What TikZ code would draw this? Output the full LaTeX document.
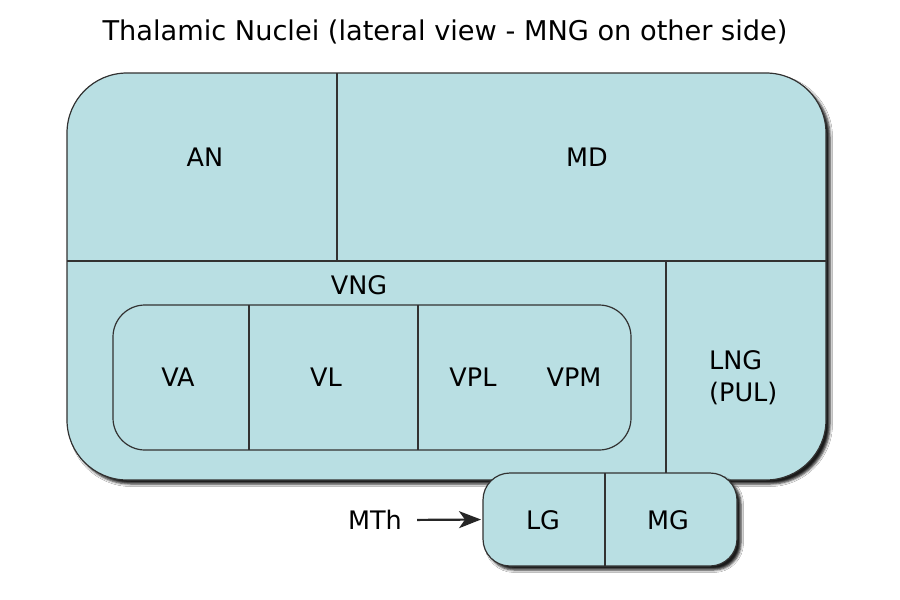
\documentclass[tikz,border=0pt]{standalone}
\usepackage{fontspec}
\setmainfont{DejaVu Sans}
\usetikzlibrary{arrows.meta,shadows.blur}
\definecolor{nucfill}{RGB}{185,223,227}
\definecolor{edge}{RGB}{50,50,50}
\tikzset{
  region/.style={draw=edge, line width=1.2pt, fill=nucfill, inner sep=0pt, outer sep=0pt},
  shad/.style={blur shadow={shadow xshift=4pt, shadow yshift=-4pt, shadow blur radius=2.5pt, shadow opacity=90}},
  divider/.style={draw=edge, line width=1.1pt},
  lbl/.style={font=\fontsize{25.5}{31}\selectfont, text=black, inner sep=1pt},
  arr/.style={draw=black!85, line width=2.2pt, -{Stealth[length=22pt,width=17pt,inset=6pt]}},
}
\begin{document}
\begin{tikzpicture}[x=1pt,y=-1pt]
\useasboundingbox (0,0) rectangle (900,600);
\fill[white] (0,0) rectangle (900,600);
% title
\node[lbl, font=\fontsize{27.2}{32}\selectfont] (title) at (445,32) {Thalamic Nuclei (lateral view - MNG on other side)};
% main body
\node[region, shad, rounded corners=60pt, minimum width=759pt, minimum height=407pt] (main) at (446.5,276.5) {};
\coordinate (hl) at (67,261);
\coordinate (hr) at (826,261);
\coordinate (v1t) at (337,73);
\coordinate (v1b) at (337,261);
\coordinate (v2t) at (666,261);
\coordinate (v2b) at (666,474);
\draw[divider] (hl) -- (hr);
\draw[divider] (v1t) -- (v1b);
\draw[divider] (v2t) -- (v2b);
% inner ventral box
\node[region, rounded corners=32pt, minimum width=518pt, minimum height=145pt] (inner) at (372,377.5) {};
\draw[divider] (inner.north -| 249,0) -- (inner.south -| 249,0);
\draw[divider] (inner.north -| 418,0) -- (inner.south -| 418,0);
% LG / MG box
\node[region, shad, rounded corners=27pt, minimum width=254pt, minimum height=93pt] (lgbox) at (610,519.5) {};
\draw[divider] (lgbox.north -| 605,0) -- (lgbox.south -| 605,0);
% labels
\node[lbl] (an) at (205,157) {AN};
\node[lbl] (md) at (587,157) {MD};
\node[lbl] (vng) at (359,285) {VNG};
\node[lbl] (va) at (178,377) {VA};
\node[lbl] (vl) at (326,377) {VL};
\node[lbl] (vpl) at (473,377) {VPL};
\node[lbl] (vpm) at (574,377) {VPM};
\node[lbl, align=left, anchor=west, font=\fontsize{25.5}{32}\selectfont] (lng) at (708,378) {LNG\\(PUL)};
\node[lbl] (lg) at (543,520) {LG};
\node[lbl] (mg) at (668,520) {MG};
\node[lbl] (mth) at (375,520) {MTh};
\draw[arr, shorten <=14pt, shorten >=2pt] (mth.east) -- (lgbox.west);
\end{tikzpicture}
\end{document}
